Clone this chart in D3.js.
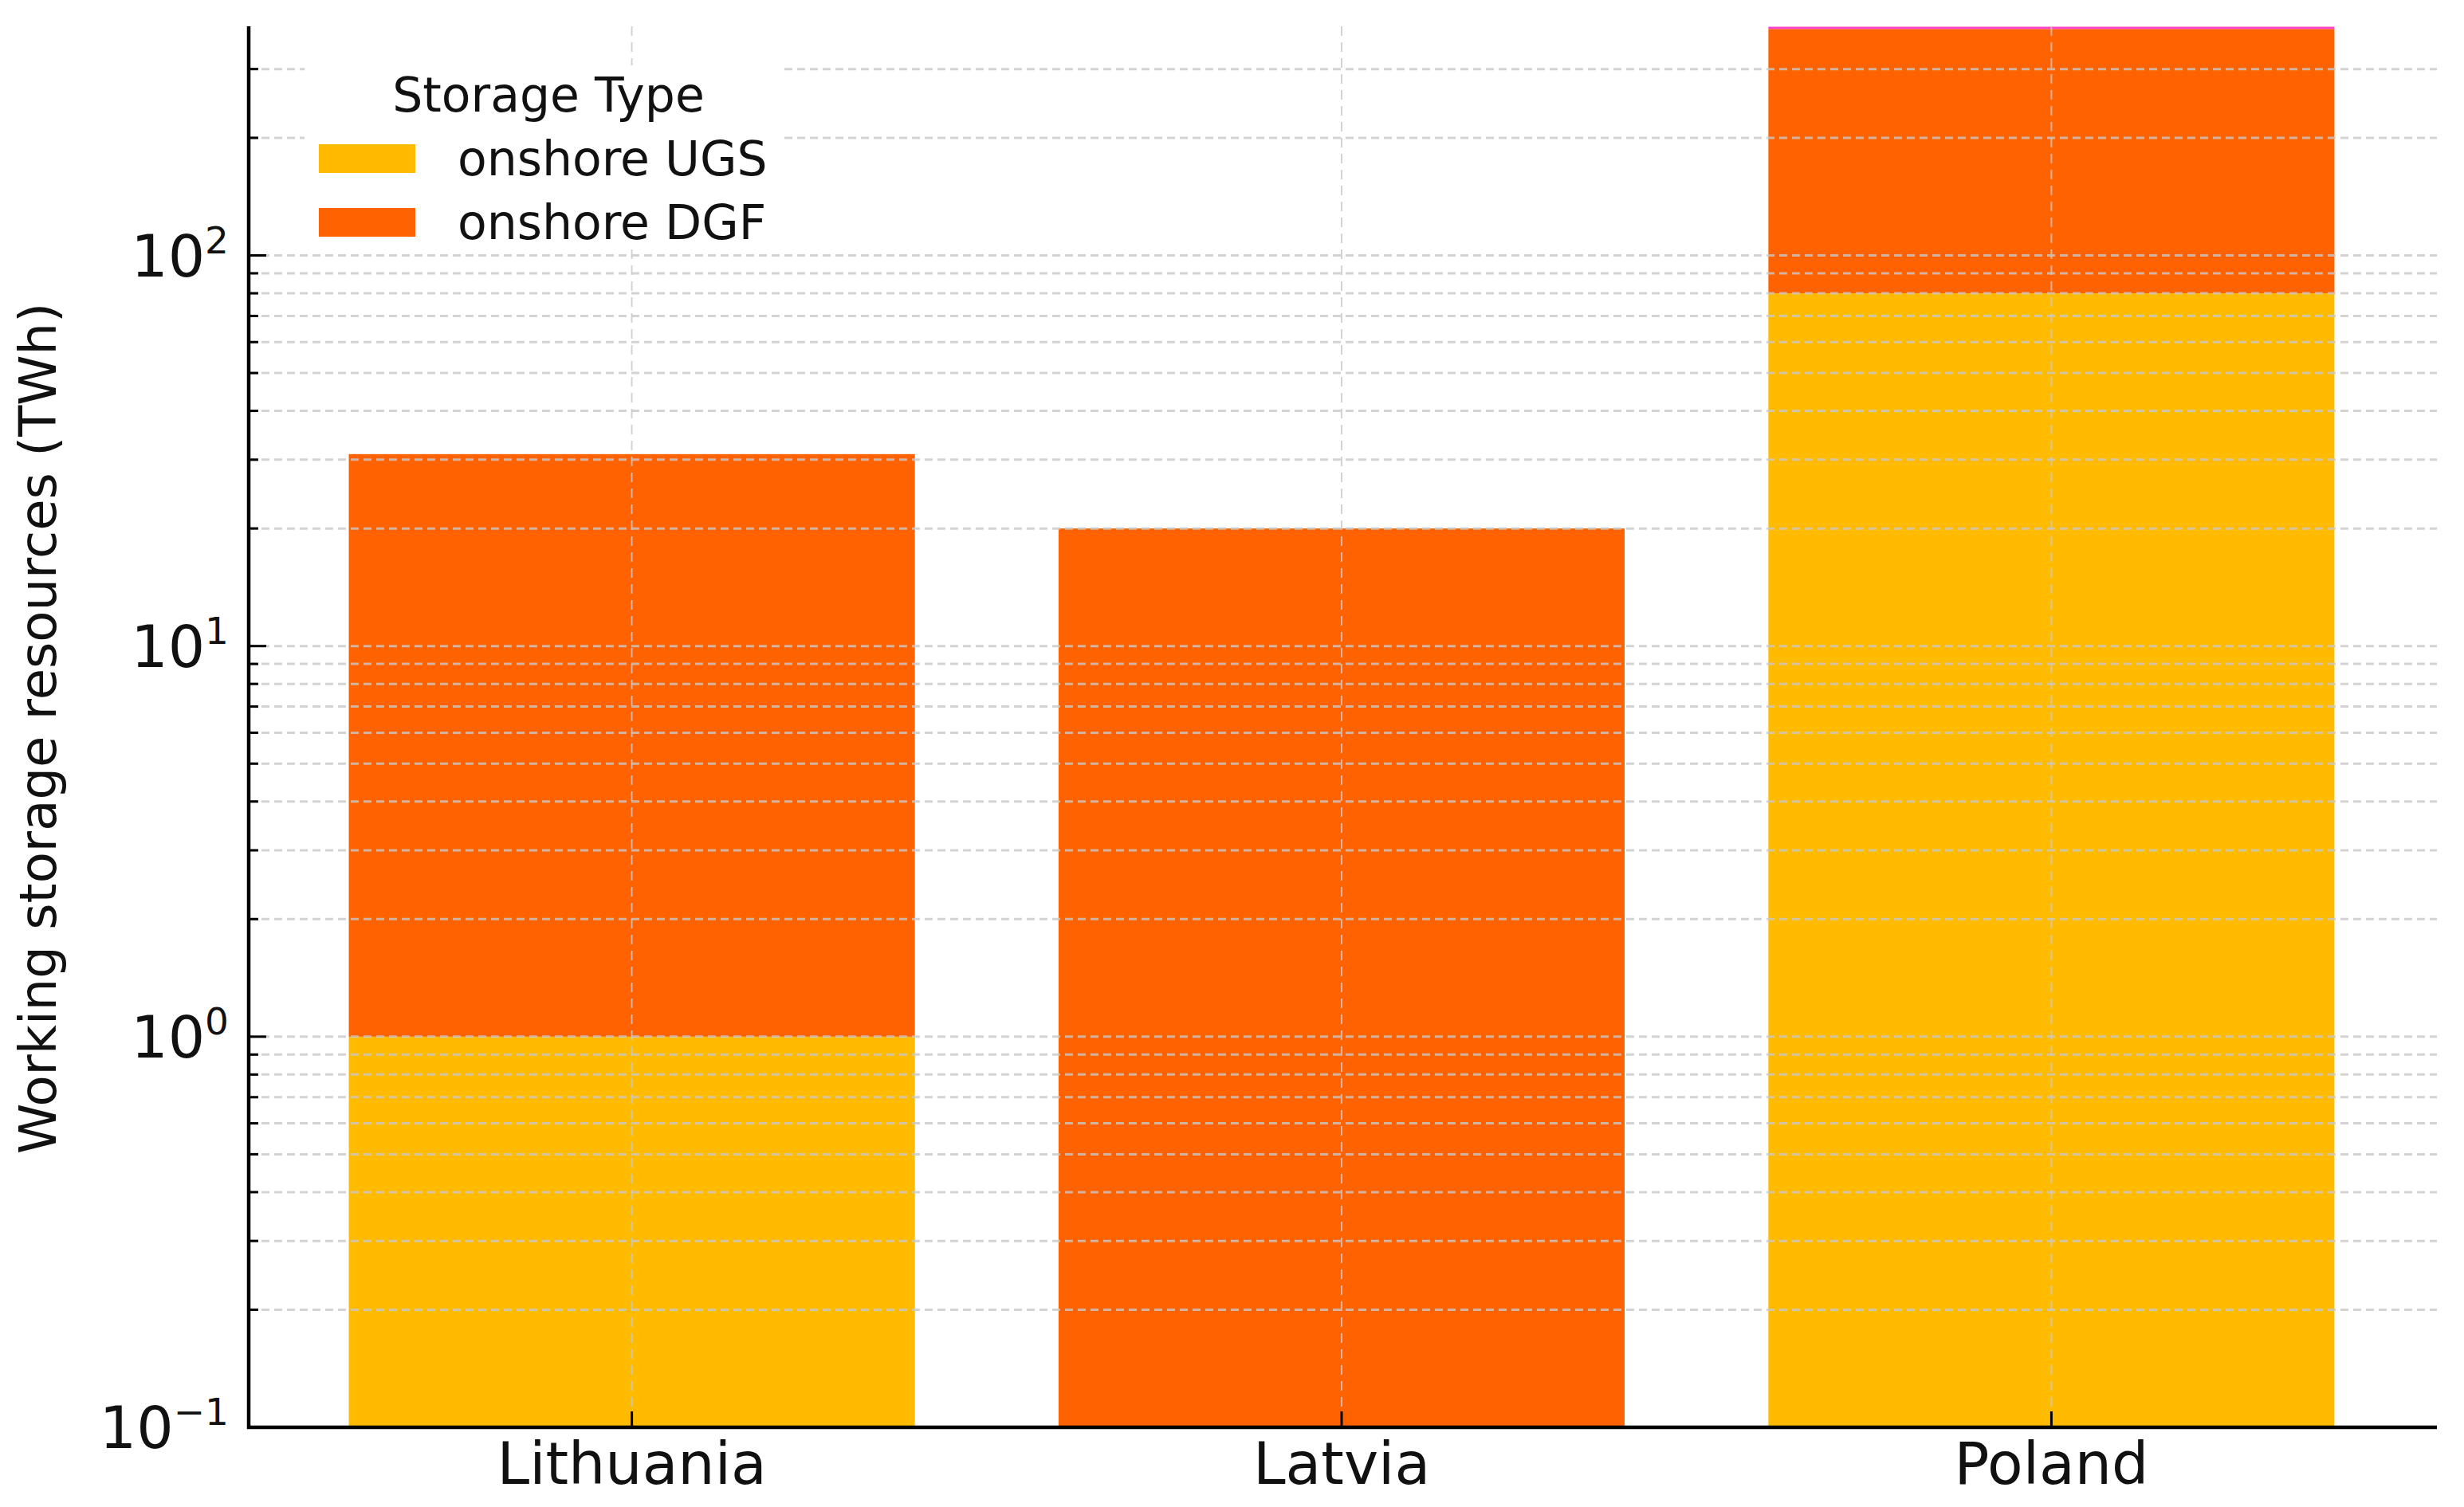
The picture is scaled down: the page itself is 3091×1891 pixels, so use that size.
<!DOCTYPE html>
<html>
<head>
<meta charset="utf-8">
<script src="https://cdn.jsdelivr.net/npm/d3@7"></script>
<style>
  body { margin: 0; background: #fff; }
  text { font-family: "DejaVu Sans", sans-serif; fill: #111; }
</style>
</head>
<body>
<div id="chart"></div>
<script>
const countries = ["Lithuania", "Latvia", "Poland"];
const ugsValues = [1, 0, 80];
const dgfValues = [30, 20, 300];
const otherValues = [0, 0, 5];
const seriesKeys = ["onshore UGS", "onshore DGF", "other"];
const seriesColors = ["#ffbb00", "#ff6200", "#ff40c8"];
const legendKeys = ["onshore UGS", "onshore DGF"];
const majorTicks = [0.1, 1, 10, 100];
const majorExp = ["\u22121", "0", "1", "2"];

const W = 3091, H = 1891;
const margin = { top: 33, right: 34, bottom: 100, left: 312 };

const rows = countries.map((c, i) => ({
  country: c,
  "onshore UGS": ugsValues[i],
  "onshore DGF": dgfValues[i],
  "other": otherValues[i]
}));

const stacked = d3.stack().keys(seriesKeys)(rows);

const svg = d3.select("#chart").append("svg")
  .attr("width", W)
  .attr("height", H)
  .style("background", "#fff");

const x = d3.scaleBand()
  .domain(countries)
  .range([margin.left, 3054])
  .paddingInner(0.2025)
  .paddingOuter(0.141);

const y = d3.scaleLog()
  .domain([0.1, 386])
  .range([H - margin.bottom, margin.top]);

const yMin = y.domain()[0];
const color = d3.scaleOrdinal().domain(seriesKeys).range(seriesColors);

// bars
svg.append("g")
  .selectAll("g")
  .data(stacked)
  .join("g")
  .attr("fill", d => color(d.key))
  .selectAll("rect")
  .data(d => d)
  .join("rect")
  .attr("x", d => x(d.data.country))
  .attr("width", x.bandwidth())
  .attr("y", d => y(Math.max(d[1], yMin)))
  .attr("height", d => d[1] - d[0] > 0 ? y(Math.max(d[0], yMin)) - y(Math.max(d[1], yMin)) : 0);

// grid on top of bars
const grid = svg.append("g");
grid.selectAll("line.h")
  .data(y.ticks())
  .join("line")
  .attr("class", "h")
  .attr("x1", margin.left)
  .attr("x2", W - margin.right)
  .attr("y1", d => y(d))
  .attr("y2", d => y(d))
  .attr("stroke", "#c8c8c8")
  .attr("stroke-opacity", 0.8)
  .attr("stroke-width", 3)
  .attr("stroke-dasharray", "10,6");

grid.selectAll("line.v")
  .data(countries)
  .join("line")
  .attr("class", "v")
  .attr("x1", d => x(d) + x.bandwidth() / 2)
  .attr("x2", d => x(d) + x.bandwidth() / 2)
  .attr("y1", margin.top)
  .attr("y2", H - margin.bottom)
  .attr("stroke", "#c8c8c8")
  .attr("stroke-opacity", 0.8)
  .attr("stroke-width", 2)
  .attr("stroke-dasharray", "12,8");

// y axis (ticks inward)
const yAxis = svg.append("g")
  .attr("transform", `translate(${margin.left},0)`);

yAxis.selectAll("line.minor")
  .data(y.ticks().filter(t => !majorTicks.includes(t)))
  .join("line")
  .attr("class", "minor")
  .attr("x1", 0).attr("x2", 12)
  .attr("y1", d => y(d)).attr("y2", d => y(d))
  .attr("stroke", "#000").attr("stroke-width", 3);

yAxis.selectAll("line.major")
  .data(majorTicks)
  .join("line")
  .attr("class", "major")
  .attr("x1", 0).attr("x2", 22)
  .attr("y1", d => y(d)).attr("y2", d => y(d))
  .attr("stroke", "#000").attr("stroke-width", 3);

const yLabels = yAxis.selectAll("text.tick")
  .data(majorTicks)
  .join("text")
  .attr("class", "tick")
  .attr("x", -25)
  .attr("y", d => y(d) + 26)
  .attr("text-anchor", "end")
  .style("font-size", "73px");
yLabels.append("tspan").text("10");
yLabels.append("tspan")
  .attr("dy", -29)
  .style("font-size", "47px")
  .text((d, i) => majorExp[i]);

yAxis.append("line")
  .attr("y1", margin.top).attr("y2", H - margin.bottom + 2)
  .attr("stroke", "#000").attr("stroke-width", 4.5);

// x axis
const xAxis = svg.append("g")
  .attr("transform", `translate(0,${H - margin.bottom})`);

xAxis.selectAll("line.tick")
  .data(countries)
  .join("line")
  .attr("x1", d => x(d) + x.bandwidth() / 2)
  .attr("x2", d => x(d) + x.bandwidth() / 2)
  .attr("y1", 0).attr("y2", -20)
  .attr("stroke", "#000").attr("stroke-width", 3);

xAxis.selectAll("text")
  .data(countries)
  .join("text")
  .attr("x", d => x(d) + x.bandwidth() / 2)
  .attr("y", 71)
  .attr("text-anchor", "middle")
  .style("font-size", "73px")
  .text(d => d);

xAxis.append("line")
  .attr("x1", margin.left - 2).attr("x2", W - margin.right)
  .attr("stroke", "#000").attr("stroke-width", 4.5);

// y label
svg.append("text")
  .attr("transform", `translate(70,${(margin.top + H - margin.bottom) / 2 + 2}) rotate(-90)`)
  .attr("text-anchor", "middle")
  .style("font-size", "64px")
  .text("Working storage resources (TWh)");

// legend
const legend = svg.append("g");
legend.append("rect")
  .attr("x", 382).attr("y", 82)
  .attr("width", 597).attr("height", 230)
  .attr("fill", "#fff");
legend.append("text")
  .attr("x", 688).attr("y", 140)
  .attr("text-anchor", "middle")
  .style("font-size", "60px")
  .text("Storage Type");
const items = legend.selectAll("g.item")
  .data(legendKeys)
  .join("g")
  .attr("class", "item")
  .attr("transform", (d, i) => `translate(400,${181 + i * 80})`);
items.append("rect")
  .attr("width", 121).attr("height", 36)
  .attr("fill", d => color(d));
items.append("text")
  .attr("x", 174).attr("y", 39)
  .style("font-size", "60px")
  .text(d => d);
</script>
</body>
</html>
